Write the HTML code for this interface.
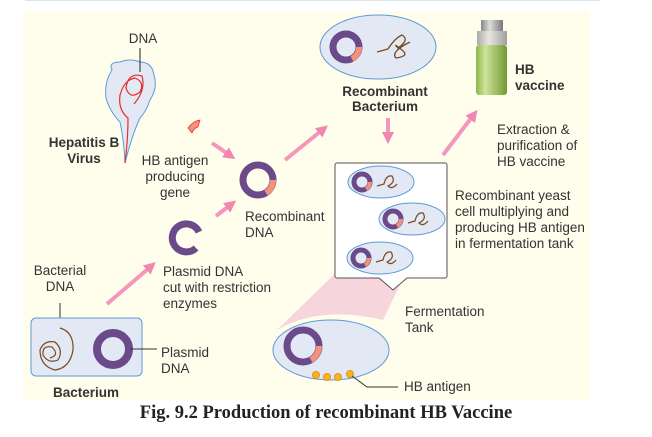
<!DOCTYPE html>
<html><head><meta charset="utf-8"><style>
body{margin:0;background:#fff;width:652px;height:432px;overflow:hidden}
text{font-family:"Liberation Sans",sans-serif;fill:#333;font-size:13.5px}
.b{font-weight:bold}
</style></head><body>
<svg width="652" height="432" viewBox="0 0 652 432">
<defs>
<marker id="ah" markerWidth="12" markerHeight="12" refX="3" refY="6" orient="auto" markerUnits="userSpaceOnUse"><path d="M0,0 L12,6 L0,12z" fill="#f07aa9"/></marker>
<linearGradient id="vg" x1="0" x2="1"><stop offset="0" stop-color="#8cb84a"/><stop offset="0.3" stop-color="#cfe39a"/><stop offset="1" stop-color="#6f9a35"/></linearGradient>
<linearGradient id="cg" x1="0" x2="1"><stop offset="0" stop-color="#888"/><stop offset="0.4" stop-color="#ddd"/><stop offset="1" stop-color="#777"/></linearGradient>
</defs>
<line x1="25" y1="0.5" x2="600" y2="0.5" stroke="#dde6ee"/>
<rect x="23" y="11" width="567" height="389" fill="#fffdec"/>

<g>
<path d="M112,70 Q108,62 120,62 Q130,58 140,62 Q152,62 154,75 Q158,88 150,100 Q146,112 140,118 Q132,135 125,163 Q124,140 120,122 Q110,112 106,98 Q104,82 112,70z" fill="#e3e8f5" stroke="#5b9bd5"/>
<path d="M125,163 Q128,140 128,118 Q118,110 120,95 Q124,80 135,78 Q145,82 140,92 Q130,100 126,88 Q128,72 142,76 Q146,90 134,104" fill="none" stroke="#e52d2d" stroke-width="1.2"/>
</g>
<line x1="140" y1="48" x2="140" y2="72" stroke="#222"/>
<text x="143" y="43" text-anchor="middle">DNA</text>
<text x="84" y="147" text-anchor="middle" class="b">Hepatitis B</text>
<text x="84" y="163" text-anchor="middle" class="b">Virus</text>

<path d="M188,128 Q193,121 200,120 L198,127 Q194,128 192,133z" fill="#f3917a" stroke="#e23" stroke-width="0.7"/>
<text text-anchor="middle"><tspan x="175" y="165">HB antigen</tspan><tspan x="175" y="181">producing</tspan><tspan x="175" y="197">gene</tspan></text>

<g stroke="#f48cb7" stroke-width="4" marker-end="url(#ah)" fill="none" opacity="0.9">
<line x1="212" y1="143" x2="228" y2="154"/>
<line x1="216" y1="216" x2="229" y2="206"/>
<line x1="107" y1="304" x2="149" y2="268"/>
<line x1="285" y1="160" x2="321" y2="131"/>
<line x1="443" y1="155" x2="472" y2="117"/>
<line x1="388" y1="118" x2="388" y2="135"/>
</g>

<g>
<circle cx="258" cy="180" r="15" fill="none" stroke="#6b4a8a" stroke-width="7"/>
<path d="M273,180 A15,15 0 0 1 266,193" fill="none" stroke="#f3917a" stroke-width="6"/>
</g>
<text><tspan x="245" y="221">Recombinant</tspan><tspan x="245" y="237">DNA</tspan></text>

<path d="M196,248 A14,14 0 1 1 199,232" fill="none" stroke="#6b4a8a" stroke-width="7"/>
<text><tspan x="163" y="276">Plasmid DNA</tspan><tspan x="163" y="292">cut with restriction</tspan><tspan x="163" y="308">enzymes</tspan></text>

<text text-anchor="middle"><tspan x="60" y="275">Bacterial</tspan><tspan x="60" y="291">DNA</tspan></text>
<line x1="60" y1="303" x2="60" y2="328" stroke="#333"/>
<rect x="31" y="318" width="111" height="58" rx="5" fill="#e3e8f5" stroke="#5b9bd5"/>
<path d="M60,328 Q74,332 73,350 Q70,368 55,370 Q40,366 40,350 Q44,340 55,342 Q64,350 58,360 Q48,364 43,355 Q42,345 52,347 Q60,355 50,358" fill="none" stroke="#7a4a1e" stroke-width="1.2"/>
<circle cx="113" cy="349" r="16" fill="none" stroke="#6b4a8a" stroke-width="8"/>
<line x1="130" y1="349" x2="157" y2="349" stroke="#333"/>
<text><tspan x="161" y="357">Plasmid</tspan><tspan x="161" y="373">DNA</tspan></text>
<text x="86" y="397" text-anchor="middle" class="b">Bacterium</text>

<g>
<ellipse cx="378" cy="47" rx="58" ry="32" fill="#e3e8f5" stroke="#5b9bd5"/>
<circle cx="346" cy="47" r="13" fill="none" stroke="#6b4a8a" stroke-width="7"/>
<path d="M359,47 A13,13 0 0 1 352,59" fill="none" stroke="#f3917a" stroke-width="6"/>
<path d="M377,52 L388,49 Q395,38 402,35 Q410,40 398,48 Q392,42 402,50 Q410,56 396,58 Q390,52 410,42" fill="none" stroke="#7a4a1e" stroke-width="1.3"/>
</g>
<text text-anchor="middle" class="b"><tspan x="385" y="96">Recombinant</tspan><tspan x="385" y="111">Bacterium</tspan></text>

<g>
<rect x="481" y="20" width="22" height="11" rx="1" fill="url(#cg)"/>
<path d="M477,31 h30 v14 h-30z" fill="url(#cg)" opacity="0.7"/>
<rect x="476" y="45" width="31" height="50" rx="3" fill="url(#vg)"/>
</g>
<text class="b"><tspan x="515" y="74">HB</tspan><tspan x="515" y="90">vaccine</tspan></text>
<text><tspan x="497" y="134">Extraction &amp;</tspan><tspan x="497" y="150">purification of</tspan><tspan x="497" y="166">HB vaccine</tspan></text>

<path d="M349,260 L277,330 Q320,305 383,320 L411,262z" fill="#f4c3d6" opacity="0.7"/>
<path d="M337,163 h108 a2,2 0 0 1 2,2 v111 a2,2 0 0 1 -2,2 h-38 l-14,12 l-14,-12 h-42 a2,2 0 0 1 -2,-2 v-111 a2,2 0 0 1 2,-2z" fill="#fff" stroke="#555"/>
<g>
<ellipse cx="381" cy="182" rx="33" ry="16" fill="#e3e8f5" stroke="#5b9bd5"/>
<circle cx="362" cy="182" r="8" fill="none" stroke="#6b4a8a" stroke-width="5"/>
<path d="M370,182 A8,8 0 0 1 366,189" fill="none" stroke="#f3917a" stroke-width="4"/>
<path d="M377,186 L384,184 Q386,175 392,176 Q396,182 388,186 Q392,190 397,184" fill="none" stroke="#7a4a1e" stroke-width="1.2"/>
<ellipse cx="412" cy="219" rx="33" ry="16" fill="#e3e8f5" stroke="#5b9bd5"/>
<circle cx="393" cy="219" r="8" fill="none" stroke="#6b4a8a" stroke-width="5"/>
<path d="M401,219 A8,8 0 0 1 397,226" fill="none" stroke="#f3917a" stroke-width="4"/>
<path d="M408,223 L415,221 Q417,212 423,213 Q427,219 419,223 Q423,227 428,221" fill="none" stroke="#7a4a1e" stroke-width="1.2"/>
<ellipse cx="380" cy="258" rx="33" ry="16" fill="#e3e8f5" stroke="#5b9bd5"/>
<circle cx="361" cy="258" r="8" fill="none" stroke="#6b4a8a" stroke-width="5"/>
<path d="M369,258 A8,8 0 0 1 365,265" fill="none" stroke="#f3917a" stroke-width="4"/>
<path d="M376,262 L383,260 Q385,251 391,252 Q395,258 387,262 Q391,266 396,260" fill="none" stroke="#7a4a1e" stroke-width="1.2"/>
</g>
<text><tspan x="455" y="200">Recombinant yeast</tspan><tspan x="455" y="216">cell multiplying and</tspan><tspan x="455" y="232">producing HB antigen</tspan><tspan x="455" y="248">in fermentation tank</tspan></text>
<text><tspan x="405" y="316">Fermentation</tspan><tspan x="405" y="332">Tank</tspan></text>

<g>
<ellipse cx="331" cy="350" rx="58" ry="30" fill="#e3e8f5" stroke="#5b9bd5"/>
<circle cx="303" cy="346" r="16" fill="none" stroke="#6b4a8a" stroke-width="7"/>
<path d="M319,346 A16,16 0 0 1 311,360" fill="none" stroke="#f3917a" stroke-width="6"/>
<circle cx="316" cy="375" r="3.5" fill="#f5b520" stroke="#e8901a"/>
<circle cx="327" cy="377" r="3.5" fill="#f5b520" stroke="#e8901a"/>
<circle cx="338" cy="377" r="3.5" fill="#f5b520" stroke="#e8901a"/>
<circle cx="350" cy="374" r="3.5" fill="#f5b520" stroke="#e8901a"/>
</g>
<path d="M352,376 L367,387 H398" fill="none" stroke="#333"/>
<text x="404" y="391">HB antigen</text>

<text x="326" y="418" text-anchor="middle" style="font-family:'Liberation Serif',serif;font-weight:bold;font-size:18.5px;fill:#222">Fig. 9.2 Production of recombinant HB Vaccine</text>
</svg>
</body></html>
